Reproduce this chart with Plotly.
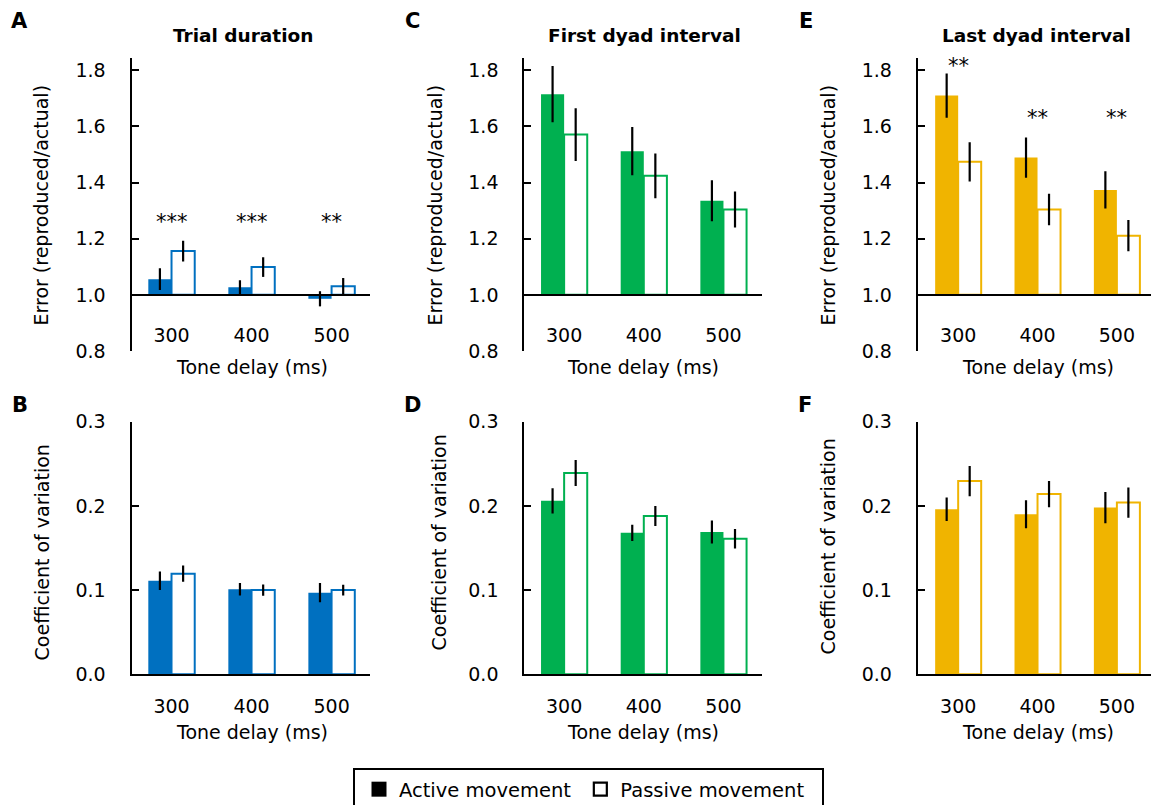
import plotly.graph_objects as go

W, H = 1151, 805
FONT = "DejaVu Sans"

# ---------------- data ----------------
delays = ["300", "400", "500"]

# A: Trial duration, error (reproduced/actual)
trial_err_active = [1.056, 1.027, 0.986]
trial_err_active_se = [0.039, 0.025, 0.027]
trial_err_passive = [1.156, 1.099, 1.031]
trial_err_passive_se = [0.037, 0.035, 0.029]
trial_err_stars = ["***", "***", "**"]
trial_err_star_y = [1.258, 1.258, 1.258]

# C: First dyad interval, error
first_err_active = [1.715, 1.512, 1.335]
first_err_active_se = [0.100, 0.086, 0.073]
first_err_passive = [1.571, 1.424, 1.304]
first_err_passive_se = [0.094, 0.080, 0.064]

# E: Last dyad interval, error
last_err_active = [1.710, 1.489, 1.374]
last_err_active_se = [0.079, 0.072, 0.066]
last_err_passive = [1.474, 1.304, 1.211]
last_err_passive_se = [0.070, 0.056, 0.056]
last_err_stars = ["**", "**", "**"]
last_err_star_y = [1.817, 1.629, 1.629]

# B: Trial duration, coefficient of variation
trial_cv_active = [0.111, 0.101, 0.097]
trial_cv_active_se = [0.011, 0.0075, 0.0115]
trial_cv_passive = [0.1195, 0.100, 0.100]
trial_cv_passive_se = [0.0097, 0.0067, 0.0065]

# D: First dyad interval, CV
first_cv_active = [0.206, 0.168, 0.169]
first_cv_active_se = [0.015, 0.0097, 0.0137]
first_cv_passive = [0.239, 0.188, 0.161]
first_cv_passive_se = [0.0155, 0.012, 0.0117]

# F: Last dyad interval, CV
last_cv_active = [0.196, 0.190, 0.198]
last_cv_active_se = [0.014, 0.0166, 0.0186]
last_cv_passive = [0.2295, 0.214, 0.204]
last_cv_passive_se = [0.018, 0.0155, 0.018]

err_ticks = [0.8, 1.0, 1.2, 1.4, 1.6, 1.8]
cv_ticks = [0.0, 0.1, 0.2, 0.3]

BLUE, GREEN, GOLD = "#0070C0", "#00B050", "#F0B400"


def fx(px):
    return px / W


def fy(py):
    return 1 - py / H


# panel layout (pixel geometry)
top_dom = [fy(351.0), fy(57.7)]
bot_dom = [fy(674.3), fy(421.7)]
col_dom = [[fx(131.5), fx(370.0)], [fx(524.3), fx(761.7)], [fx(917.7), 1.0]]
col_rng = [[-0.5, 2.48], [-0.5, 2.48], [-0.51, 2.43]]
err_range = [0.8, 1.845]
cv_range = [0.0, 0.3]

panels = [
    # (col, row, color, active, active_se, passive, passive_se, base)
    (0, 0, BLUE, trial_err_active, trial_err_active_se, trial_err_passive, trial_err_passive_se, 1.0),
    (1, 0, GREEN, first_err_active, first_err_active_se, first_err_passive, first_err_passive_se, 1.0),
    (2, 0, GOLD, last_err_active, last_err_active_se, last_err_passive, last_err_passive_se, 1.0),
    (0, 1, BLUE, trial_cv_active, trial_cv_active_se, trial_cv_passive, trial_cv_passive_se, 0.0),
    (1, 1, GREEN, first_cv_active, first_cv_active_se, first_cv_passive, first_cv_passive_se, 0.0),
    (2, 1, GOLD, last_cv_active, last_cv_active_se, last_cv_passive, last_cv_passive_se, 0.0),
]

fig = go.Figure()
layout = dict(
    width=W, height=H,
    margin=dict(l=0, r=0, t=0, b=0, autoexpand=False),
    paper_bgcolor="white", plot_bgcolor="white",
    barmode="group", bargap=0.42, bargroupgap=0.0,
    font=dict(family=FONT, size=19, color="black"),
    showlegend=True,
)

for i, (col, row, color, act, act_se, pas, pas_se, base) in enumerate(panels):
    n = i + 1
    xa = "x" if n == 1 else f"x{n}"
    ya = "y" if n == 1 else f"y{n}"
    fig.add_trace(go.Bar(
        x=delays, y=[v - base for v in act], base=base,
        xaxis=xa, yaxis=ya, showlegend=False,
        marker=dict(color=color, line=dict(width=0)),
        error_y=dict(type="data", array=act_se, color="black", thickness=2.2, width=0),
    ))
    fig.add_trace(go.Bar(
        x=delays, y=[v - base for v in pas], base=base,
        xaxis=xa, yaxis=ya, showlegend=False,
        marker=dict(color="white", line=dict(color=color, width=2)),
        error_y=dict(type="data", array=pas_se, color="black", thickness=2.2, width=0),
    ))
    ydom = top_dom if row == 0 else bot_dom
    yr = err_range if row == 0 else cv_range
    ticks = err_ticks if row == 0 else cv_ticks
    xkey = "xaxis" if n == 1 else f"xaxis{n}"
    ykey = "yaxis" if n == 1 else f"yaxis{n}"
    xdef = dict(
        domain=col_dom[col], range=col_rng[col], type="category",
        showline=True, linecolor="black", linewidth=2, ticks="",
        showgrid=False, zeroline=False, automargin=False, fixedrange=True,
        tickfont=dict(size=19, family=FONT),
    )
    if row == 0:
        # axis line drawn at the 1.0 level of the y scale
        pos = ydom[0] + (base - yr[0]) / (yr[1] - yr[0]) * (ydom[1] - ydom[0])
        xdef.update(anchor="free", position=pos, ticklabelstandoff=23)
    else:
        xdef.update(anchor=ya, ticklabelstandoff=14)
    layout[xkey] = xdef
    layout[ykey] = dict(
        domain=ydom, range=yr, anchor=xa,
        tickvals=ticks, ticktext=[f"{t:.1f}" for t in ticks],
        showline=True, linecolor="black", linewidth=2,
        ticks="inside", ticklen=7, tickwidth=2, tickcolor="black",
        showgrid=False, zeroline=False, automargin=False, fixedrange=True,
        ticklabelstandoff=20, tickfont=dict(size=19, family=FONT),
    )

# legend entries
NB = "\u00a0"
fig.add_trace(go.Scatter(x=[None], y=[None], mode="markers", name="Active movement",
                         marker=dict(symbol="square", size=15, color="black",
                                     line=dict(color="black", width=0))))
fig.add_trace(go.Scatter(x=[None], y=[None], mode="markers", name="Passive movement" + NB * 2,
                         marker=dict(symbol="square", size=13, color="white",
                                     line=dict(color="black", width=2.2))))
layout["legend"] = dict(
    orientation="h", x=fx(353), xanchor="left", y=fy(768), yanchor="top",
    bordercolor="black", borderwidth=2, bgcolor="white",
    font=dict(size=19.5, family=FONT), itemsizing="trace", indentation=4,
)

ann = []
# significance stars (x given as category index on the axis scale)
for k, (lbl, yv) in enumerate(zip(trial_err_stars, trial_err_star_y)):
    ann.append(dict(x=k, y=yv, xref="x", yref="y", text=lbl, showarrow=False,
                    xanchor="center", yanchor="middle",
                    font=dict(size=21, family=FONT, color="black")))
for k, (lbl, yv) in enumerate(zip(last_err_stars, last_err_star_y)):
    ann.append(dict(x=k, y=yv, xref="x3", yref="y3", text=lbl, showarrow=False,
                    xanchor="center", yanchor="middle",
                    font=dict(size=21, family=FONT, color="black")))


def paper_text(px, py, text, size=19, angle=0):
    return dict(x=fx(px), y=fy(py), xref="paper", yref="paper", text=text,
                textangle=angle, showarrow=False, xanchor="center", yanchor="middle",
                font=dict(size=size, family=FONT, color="black"))


# panel letters
for letter, (px, py) in zip("ACEBDF", [(19, 21), (412.5, 21), (805.5, 21),
                                        (19.5, 405.5), (412.5, 405), (805, 405)]):
    ann.append(paper_text(px, py, f"<b>{letter}</b>", 21))

# panel titles
for t, px in zip(["Trial duration", "First dyad interval", "Last dyad interval"], [243, 644, 1036]):
    ann.append(paper_text(px, 35.5, f"<b>{t}</b>", 18.5))

# x-axis titles
for px in [251.5, 643.3, 1037.5]:
    for py in [366.7, 731.7]:
        ann.append(paper_text(px, py, "Tone delay (ms)"))

# y-axis titles
for px, py in [(40.5, 205), (434.5, 205), (827.5, 205)]:
    ann.append(paper_text(px, py, "Error (reproduced/actual)", angle=-90))
for px, py in [(41.8, 552.6), (438.5, 543), (827.5, 547)]:
    ann.append(paper_text(px, py, "Coefficient of variation", angle=-90))

layout["annotations"] = ann
fig.update_layout(**layout)

fig.write_html("out.html", config={"displayModeBar": False},
               post_script="document.body.style.margin='0';document.body.style.overflow='hidden';")
